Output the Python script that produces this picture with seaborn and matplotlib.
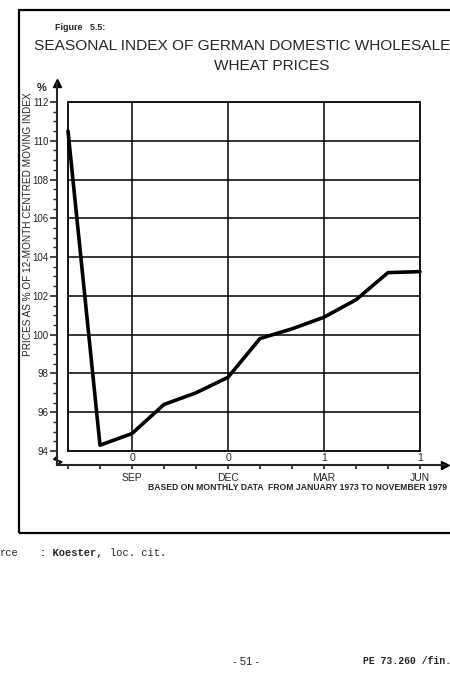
import numpy as np
import pandas as pd
import seaborn as sns
import matplotlib.pyplot as plt
from matplotlib.patches import Rectangle

# Seasonal index, German domestic wholesale wheat prices (Jul .. Jun)
months = ["JUL", "AUG", "SEP", "OCT", "NOV", "DEC", "JAN", "FEB", "MAR", "APR", "MAY", "JUN"]
index_values = [110.5, 94.3, 94.9, 96.4, 97.0, 97.8, 99.8, 100.3, 100.9, 101.8, 103.2, 103.25]
labelled_months = ["SEP", "DEC", "MAR", "JUN"]
upper_marks = ["0", "0", "1", "1"]
y_ticks = [94, 96, 98, 100, 102, 104, 106, 108, 110, 112]

df = pd.DataFrame({"pos": np.arange(len(months)), "month": months, "index": index_values})

sns.set_style("ticks")
plt.rcParams["font.family"] = ["Liberation Sans", "DejaVu Sans"]

W, H = 450, 700
fig = plt.figure(figsize=(W / 100, H / 100), dpi=100)

def fx(px):
    return px / W

def fy(py):
    return 1 - py / H

# axes placed so spines sit outside the gridded box, like the original drawing
ax = fig.add_axes([fx(57), fy(465), fx(445) - fx(57), fy(83) - fy(465)])
ax.set_xlim(-11 / 32, (445 - 68) / 32)
ax.set_ylim(94 - 14 / 19.39, 94 + (451 - 83) / 19.39)

# box and grid
x0, x1 = 0, len(months) - 1
ax.add_patch(Rectangle((x0, y_ticks[0]), x1 - x0, y_ticks[-1] - y_ticks[0],
                       fill=False, ec="black", lw=1.3, zorder=1))
ax.hlines(y_ticks[1:-1], x0, x1, color="black", lw=1.1, zorder=1)
quarter_pos = [months.index(m) for m in labelled_months]
ax.vlines(quarter_pos[:-1], y_ticks[0], y_ticks[-1], color="black", lw=1.1, zorder=1)

sns.lineplot(data=df, x="pos", y="index", color="black", lw=2.6, ax=ax, zorder=3)

# ticks
ax.set_xticks(df["pos"])
ax.set_xticklabels([m if m in labelled_months else "" for m in months], fontsize=7.5)
ax.set_yticks(y_ticks)
ax.set_yticklabels([str(v) for v in y_ticks], fontsize=7)
ax.set_yticks(np.arange(94, 112.01, 0.5), minor=True)
ax.tick_params(axis="x", direction="out", length=3, width=1.2, pad=3)
ax.tick_params(axis="y", which="major", direction="out", length=5, width=1.2, pad=1)
ax.tick_params(axis="y", which="minor", direction="out", length=3, width=1)
ax.set_xlabel("")
ax.set_ylabel("")

for side in ["top", "right"]:
    ax.spines[side].set_visible(False)
for side in ["left", "bottom"]:
    ax.spines[side].set_linewidth(1.5)

# arrow heads at the ends of the axes
ax.plot(1, 0, marker=">", color="black", ms=6, transform=ax.transAxes, clip_on=False)
ax.plot(0, 1, marker="^", color="black", ms=6, transform=ax.transAxes, clip_on=False)

# small axis break at the bottom of the y axis
ax.plot([0, -0.008, 0.012, 0], [0.022, 0.015, 0.008, 0.0], color="black", lw=1.3,
        transform=ax.transAxes, clip_on=False)

for p, t in zip(quarter_pos, upper_marks):
    ax.text(p, 94 - 0.35, t, ha="center", va="center", fontsize=7.5)

# labels and titles
fig.text(fx(42), fy(88), "%", fontsize=8, fontweight="bold", ha="center", va="center")
fig.text(fx(28), fy(224), "PRICES AS % OF 12-MONTH CENTRED MOVING INDEX",
         rotation=90, fontsize=7.2, ha="center", va="center")
fig.text(fx(298), fy(488), "BASED ON MONTHLY DATA  FROM JANUARY 1973 TO NOVEMBER 1979",
         fontsize=6.2, fontweight="bold", ha="center", va="center")
fig.text(fx(55), fy(27), "Figure   5.5:", fontsize=6.5, fontweight="bold", va="center")
fig.text(fx(242), fy(46), "SEASONAL INDEX OF GERMAN DOMESTIC WHOLESALE",
         fontsize=11.1, ha="center", va="center")
fig.text(fx(272), fy(66), "WHEAT PRICES", fontsize=11.1, ha="center", va="center")

# page frame round the figure
fig.add_artist(Rectangle((fx(19), fy(533)), fx(460) - fx(19), fy(10) - fy(533),
                         transform=fig.transFigure, fill=False, ec="black", lw=1.6))

# page footer
fig.text(fx(0), fy(553), "rce", fontsize=7.5, family="Liberation Mono", va="center")
fig.text(fx(40), fy(553), ": Koester,", fontsize=7.5, family="Liberation Mono",
         fontweight="bold", va="center")
fig.text(fx(110), fy(553), "loc. cit.", fontsize=7.5, family="Liberation Mono", va="center")
fig.text(fx(246), fy(662), "- 51 -", fontsize=8, ha="center", va="center")
fig.text(fx(363), fy(661), "PE 73.260 /fin.", fontsize=7, family="Liberation Mono",
         fontweight="bold", va="center")

fig.savefig("out.png", dpi=100)
